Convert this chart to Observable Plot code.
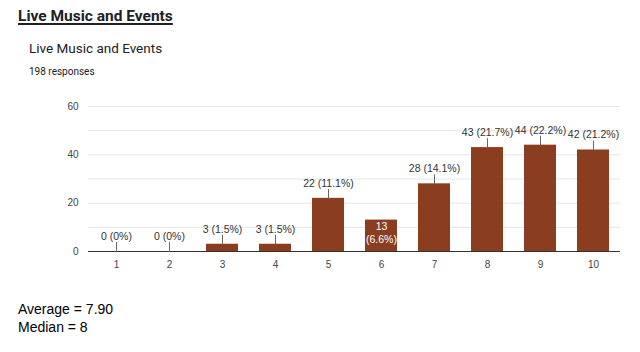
<!DOCTYPE html>
<html><head><meta charset="utf-8">
<script src="https://cdn.jsdelivr.net/npm/d3@7"></script>
<script src="https://cdn.jsdelivr.net/npm/@observablehq/plot@0.6"></script>
<style>
body{margin:0;background:#fff;width:640px;height:352px;position:relative;overflow:hidden;font-family:"Liberation Sans",Arial,sans-serif}
#title{position:absolute;left:18px;top:6px;font:bold 15.5px/20px Roboto,sans-serif;color:#202124;text-decoration:underline;text-decoration-thickness:1.5px;text-underline-offset:2px}
#sub{position:absolute;left:29px;top:39px;font:13.5px/18px Roboto,sans-serif;color:#202124}
#resp{position:absolute;left:29px;top:65px;font:10px/14px Roboto,sans-serif;color:#202124}
#chart{position:absolute;left:0;top:95px}
#stats{position:absolute;left:18px;top:300px;font:14px/18px "Liberation Sans",Arial,sans-serif;color:#000}
</style></head><body>
<div id="title">Live Music and Events</div>
<div id="sub">Live Music and Events</div>
<div id="resp">198 responses</div>
<div id="chart"></div>
<div id="stats">Average = 7.90<br>Median = 8</div>
<script>
const categories = ["1","2","3","4","5","6","7","8","9","10"];
const counts = [0,0,3,3,22,13,28,43,44,42];
const percents = ["0","0","1.5","1.5","11.1","6.6","14.1","21.7","22.2","21.2"];
const insideLabels = ["6"];
const yTickLabels = [0,20,40,60];
const gridValues = [10,20,30,40,50,60];

const data = categories.map((c,i)=>({cat:c, v:counts[i], pct:percents[i], inside: insideLabels.includes(c)}));
const outside = data.filter(d=>!d.inside);
const inside = data.filter(d=>d.inside);
const barColor = "#8b3e1f";

const spike = {draw(ctx, l){ ctx.moveTo(0,0); ctx.lineTo(0,-l); }};

const chart = Plot.plot({
  width: 640, height: 180,
  marginLeft: 88, marginRight: 20, marginTop: 11, marginBottom: 24,
  style: {fontFamily: '"Liberation Sans", Arial, sans-serif', fontSize: "10px", color: "#444", background: "transparent"},
  x: {domain: categories, paddingInner: 0.4, paddingOuter: 0.2, label: null, tickSize: 0, tickPadding: 9},
  y: {domain: [0,60], ticks: yTickLabels, label: null, tickSize: 0, tickPadding: 10},
  marks: [
    Plot.ruleY(gridValues, {stroke: "#e6e6e6", strokeWidth: 1}),
    Plot.barY(data, {x: "cat", y: "v", fill: barColor}),
    Plot.ruleY([0], {stroke: "#333", strokeWidth: 1}),
    Plot.vector(outside, {x: "cat", y: "v", length: 9, rotate: 0, anchor: "start", shape: spike, stroke: "#666", strokeWidth: 1}),
    Plot.text(outside, {x: "cat", y: "v", text: d => `${d.v} (${d.pct}%)`, dy: -15, fill: "#333", fontSize: 10.5}),
    Plot.text(inside, {x: "cat", y: "v", text: d => `${d.v}\n(${d.pct}%)`, lineAnchor: "top", dy: 1, fill: "#fff", fontSize: 10.5, lineHeight: 1.2})
  ]
});
document.getElementById("chart").appendChild(chart);
</script>
</body></html>
